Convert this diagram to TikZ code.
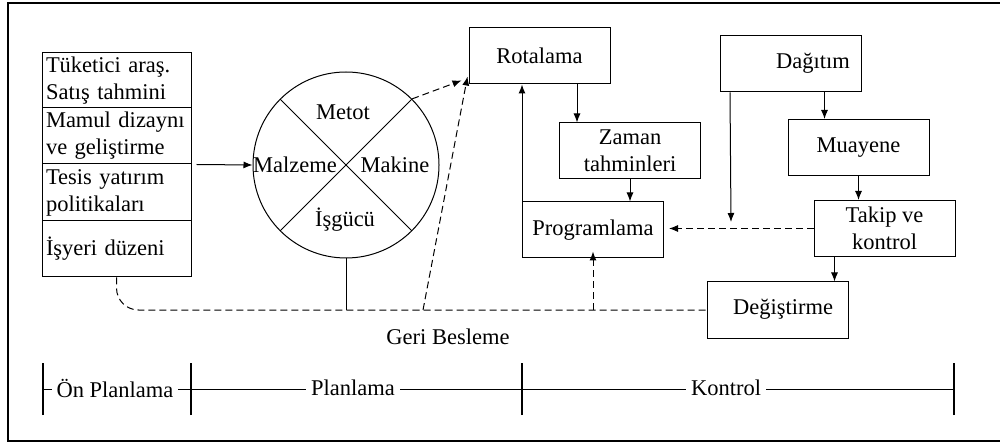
\documentclass[tikz,border=0pt]{standalone}
\usepackage{fontspec}
\setmainfont{Liberation Serif}
\usetikzlibrary{arrows.meta}
\begin{document}
\begin{tikzpicture}[x=1pt,y=-1pt,
  every node/.style={font=\fontsize{22.5}{27}\selectfont},
  box/.style={draw, line width=1pt, minimum width=141pt, minimum height=56pt, inner sep=0pt, align=center},
  cell/.style={draw, line width=1pt, minimum width=149pt, inner xsep=4pt, inner ysep=0pt, text width=141pt, align=left},
  ln/.style={line width=1pt},
  arr/.style={ln, -{Latex[length=9pt,width=7pt]}},
  dsh/.style={ln, dash pattern=on 7pt off 4pt},
  lbl/.style={fill=white, inner xsep=5pt, inner ysep=2pt}
]
\useasboundingbox (0,0) rectangle (1000,443);
\draw[line width=1.2pt] (8,3) rectangle (1010,441);

% left stack
\node[cell, minimum height=55pt] (s1) at (116.5,80.5) {Tüketici araş.\\Satış tahmini};
\node[cell, minimum height=56pt] (s2) at (116.5,136) {Mamul dizaynı\\ve geliştirme};
\node[cell, minimum height=57pt] (s3) at (116.5,192.5) {Tesis yatırım\\politikaları};
\node[cell, minimum height=56pt] (s4) at (116.5,249) {İşyeri düzeni};

% circle
\node[draw, circle, ln, minimum size=186pt, inner sep=0pt] (circ) at (346,165) {};
\draw[ln] (circ.north west) -- (circ.south east);
\draw[ln] (circ.north east) -- (circ.south west);
\node (met) at (343,112) {Metot};
\node (mal) at (295,165) {Malzeme};
\node (mak) at (395,165) {Makine};
\node (isg) at (345,220) {İşgücü};

% boxes
\node[box] (rot) at (539.5,56) {Rotalama};
\node[box] (zam) at (630,151) {Zaman\\tahminleri};
\node[box] (prog) at (593,230) {Programlama};
\node[box] (dag) at (791,64) {};
\node (dagt) at (813,63) {Dağıtım};
\node[box] (mua) at (858.5,147.5) {Muayene};
\node[box] (tak) at (884.5,228.5) {Takip ve\\kontrol};
\node[box] (deg) at (777.5,310) {};
\node (degt) at (783,309) {Değiştirme};

\node (geri) at (448,337) {Geri Besleme};

% connectors
\draw[arr] ([xshift=5pt]s2.south east) -- (circ.west);
\coordinate (cb) at (346,310);
\draw[ln] (circ.south) -- (cb);
\draw[dsh, rounded corners=22pt] (s4.south) |- (deg.west);
\draw[dsh, -{Latex[length=9pt,width=7pt]}] (prog.south |- deg.west) -- ([yshift=7pt]prog.south);
\draw[dsh, -{Latex[length=9pt,width=7pt]}] (circ.north east) -- ([xshift=-7pt,yshift=4pt]rot.south west);
\coordinate (fb) at (423,310);
\draw[dsh, -{Latex[length=9pt,width=7pt]}] (fb) -- ([xshift=-1pt,yshift=8pt]rot.south west);

\draw[arr] ([xshift=18pt]zam.north west |- rot.south) -- ([xshift=18pt]zam.north west);
\draw[arr] (zam.south) -- (zam.south |- prog.north);
\draw[arr] ([yshift=-5pt]prog.north west) -- (prog.north west |- rot.south);

\coordinate (dend) at (731,222);
\draw[arr] ([xshift=10pt]dag.south west) -- (dend);
\draw[arr] ([xshift=37pt]mua.north west |- dag.south) -- ([xshift=37pt]mua.north west);
\draw[arr] (mua.south) -- (mua.south |- tak.north);
\draw[dsh, -{Latex[length=9pt,width=7pt]}] (tak.west) -- ([xshift=5pt]prog.east |- tak.west);
\draw[arr] ([xshift=21pt]tak.south west) -- ([xshift=21pt]tak.south west |- deg.north);

% timeline
\coordinate (t1) at (43,389);
\coordinate (t2) at (191,389);
\coordinate (t3) at (522,389);
\coordinate (t4) at (954,389);
\draw[ln] (t1) -- (t4);
\foreach \t in {t1,t2,t3,t4} \draw[line width=1.2pt] ([yshift=-26pt]\t) -- ([yshift=26pt]\t);
\node[lbl] (onp) at (115,388) {Ön Planlama};
\node[lbl] (pla) at (353,388) {Planlama};
\node[lbl] (kon) at (726,388) {Kontrol};
\end{tikzpicture}
\end{document}
